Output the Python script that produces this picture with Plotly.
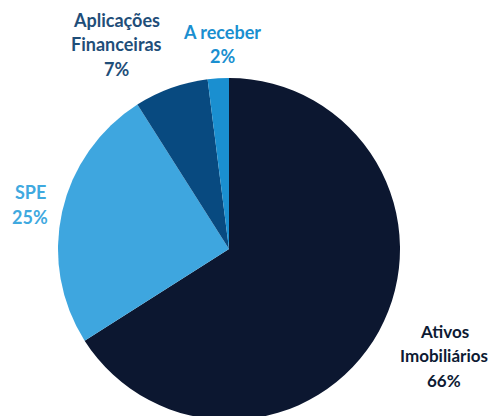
import plotly.graph_objects as go

categories = ["Ativos Imobiliários", "SPE", "Aplicações Financeiras", "A receber"]
values = [66, 25, 7, 2]
slice_colors = ["#0c1730", "#3ea6df", "#084a80", "#1a8fd0"]
label_colors = ["#0d1a33", "#3fa9df", "#1f4e79", "#1a8fd0"]
label_lines = [["Ativos", "Imobiliários"], ["SPE"], ["Aplicações", "Financeiras"], ["A receber"]]

W, H = 496, 416
OFF = 8  # page body margin
# label block: x center, y of first line (screen pixels)
label_pos = [(444, 331), (30, 192), (116, 20), (222, 32)]
label_sizes = [17, 18, 18, 18]
line_gap = 24.5

fig = go.Figure(go.Pie(
    labels=categories,
    values=values,
    sort=False,
    direction="clockwise",
    rotation=0,
    marker=dict(colors=slice_colors, line=dict(width=0)),
    textinfo="none",
    hoverinfo="label+percent",
    domain=dict(x=[50 / W, 392 / W], y=[1 - 412 / H, 1 - 70 / H]),
    showlegend=False,
))

total = sum(values)
annotations = []
for cat, v, col, lines, (px, py), fs in zip(categories, values, label_colors, label_lines, label_pos, label_sizes):
    pct = f"{round(100 * v / total)}%"
    all_lines = lines + [pct]
    for i, t in enumerate(all_lines):
        y = py + i * line_gap - OFF
        annotations.append(dict(
            x=(px - OFF) / W, y=1 - y / H, xref="paper", yref="paper",
            text=f"<b>{t}</b>", showarrow=False,
            xanchor="center", yanchor="middle",
            font=dict(family="Lato", size=fs, color=col),
        ))

fig.update_layout(
    width=W, height=H,
    margin=dict(l=0, r=0, t=0, b=0),
    paper_bgcolor="white",
    plot_bgcolor="white",
    annotations=annotations,
)

fig.write_html("out.html")
